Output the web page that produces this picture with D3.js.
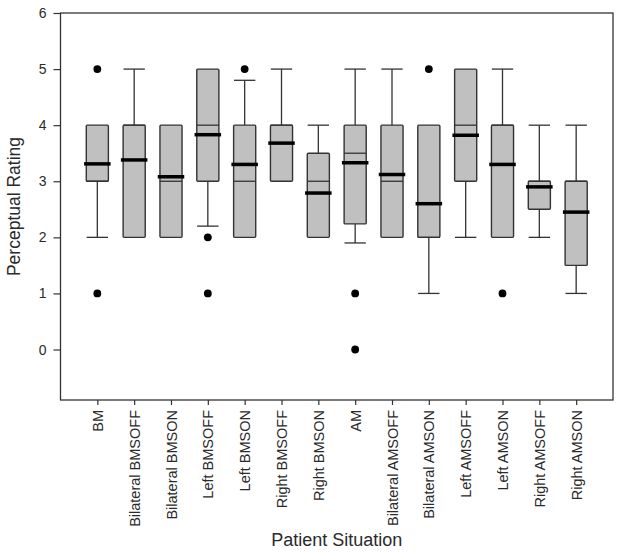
<!DOCTYPE html>
<html>
<head>
<meta charset="utf-8">
<script src="https://cdn.jsdelivr.net/npm/d3@7"></script>
<style>
  html, body { margin: 0; padding: 0; background: #fff; }
  svg { display: block; font-family: "Liberation Sans", Arial, sans-serif; }
</style>
</head>
<body>
<svg id="chart" width="621" height="552"></svg>
<script>
const categories = ["BM", "Bilateral BMSOFF", "Bilateral BMSON", "Left BMSOFF", "Left BMSON",
  "Right BMSOFF", "Right BMSON", "AM", "Bilateral AMSOFF", "Bilateral AMSON",
  "Left AMSOFF", "Left AMSON", "Right AMSOFF", "Right AMSON"];
const q1Values = [3, 2, 2, 3, 2, 3, 2, 2.24, 2, 2, 3, 2, 2.5, 1.5];
const q3Values = [4, 4, 4, 5, 4, 4, 3.5, 4, 4, 4, 5, 4, 3, 3];
const medianValues = [3, 4, 3, 4, 3, 4, 3, 3.5, 3, 2, 4, 4, 3, 3];
const meanValues = [3.31, 3.38, 3.08, 3.83, 3.30, 3.68, 2.79, 3.33, 3.12, 2.60, 3.82, 3.30, 2.90, 2.45];
const whiskerLow = [2, 2, 2, 2.2, 2, 3, 2, 1.9, 2, 1, 2, 2, 2, 1];
const whiskerHigh = [4, 5, 4, 5, 4.8, 5, 4, 5, 5, 4, 5, 5, 4, 4];
const outlierValues = [[5, 1], [], [], [2, 1], [5], [], [], [1, 0], [], [5], [], [1], [], []];
const yTicks = [0, 1, 2, 3, 4, 5, 6];

(function () {
const svg = d3.select("#chart");
const mLeft = 60.5, mRight = 613, mTop = 13, mBottom = 400;

const x = d3.scaleLinear().domain([0, categories.length + 1]).range([mLeft, mRight]);
const y = d3.scaleLinear().domain([-0.9, 6]).range([mBottom, mTop]);

const step = x(1) - x(0);
const boxW = step * 0.6;
const capW = step * 0.58;
const meanW = step * 0.72;
const axisColor = "#333";
const textColor = "#2a2a2a";
const fontFam = '"Liberation Sans", Arial, sans-serif';

svg.append("rect")
  .attr("x", mLeft).attr("y", mTop)
  .attr("width", mRight - mLeft).attr("height", mBottom - mTop)
  .attr("fill", "none").attr("stroke", axisColor).attr("stroke-width", 1.3);

const yAxis = svg.append("g")
  .attr("transform", `translate(${mLeft},0)`)
  .call(d3.axisLeft(y).tickValues(yTicks).tickSize(7).tickPadding(7).tickFormat(d3.format("d")));
yAxis.select(".domain").remove();
yAxis.selectAll(".tick line").attr("stroke", axisColor).attr("stroke-width", 1.2);
yAxis.selectAll(".tick text").attr("fill", textColor).style("font-size", "14px")
  .style("font-family", fontFam);

const xAxis = svg.append("g")
  .attr("transform", `translate(0,${mBottom})`)
  .call(d3.axisBottom(x).tickValues(d3.range(1, categories.length + 1)).tickSize(5)
    .tickFormat(i => categories[i - 1]));
xAxis.select(".domain").remove();
xAxis.selectAll(".tick line").attr("stroke", axisColor).attr("stroke-width", 1.2);
xAxis.selectAll(".tick text")
  .attr("fill", textColor)
  .style("font-size", "14.5px")
  .style("font-family", fontFam)
  .attr("text-anchor", "end")
  .attr("transform", "rotate(-90)")
  .attr("x", -10).attr("y", 0).attr("dy", "0.35em");

const g = svg.append("g");
categories.forEach((c, i) => {
  const cx = x(i + 1);
  const q1 = q1Values[i], q3 = q3Values[i];
  if (whiskerHigh[i] > q3) {
    g.append("line").attr("x1", cx).attr("x2", cx).attr("y1", y(q3)).attr("y2", y(whiskerHigh[i]))
      .attr("stroke", axisColor).attr("stroke-width", 1.3);
    g.append("line").attr("x1", cx - capW / 2).attr("x2", cx + capW / 2)
      .attr("y1", y(whiskerHigh[i])).attr("y2", y(whiskerHigh[i]))
      .attr("stroke", axisColor).attr("stroke-width", 1.3);
  }
  if (whiskerLow[i] < q1) {
    g.append("line").attr("x1", cx).attr("x2", cx).attr("y1", y(q1)).attr("y2", y(whiskerLow[i]))
      .attr("stroke", axisColor).attr("stroke-width", 1.3);
    g.append("line").attr("x1", cx - capW / 2).attr("x2", cx + capW / 2)
      .attr("y1", y(whiskerLow[i])).attr("y2", y(whiskerLow[i]))
      .attr("stroke", axisColor).attr("stroke-width", 1.3);
  }
  g.append("rect")
    .attr("x", cx - boxW / 2).attr("y", y(q3))
    .attr("width", boxW).attr("height", y(q1) - y(q3))
    .attr("rx", 1).attr("ry", 1)
    .attr("fill", "#c0c0c0").attr("stroke", axisColor).attr("stroke-width", 1.4);
  g.append("line").attr("x1", cx - boxW / 2).attr("x2", cx + boxW / 2)
    .attr("y1", y(medianValues[i])).attr("y2", y(medianValues[i]))
    .attr("stroke", axisColor).attr("stroke-width", 1.3);
  g.append("line").attr("x1", cx - meanW / 2).attr("x2", cx + meanW / 2)
    .attr("y1", y(meanValues[i])).attr("y2", y(meanValues[i]))
    .attr("stroke", "#000").attr("stroke-width", 3.5);
  outlierValues[i].forEach(v => {
    g.append("circle").attr("cx", cx).attr("cy", y(v)).attr("r", 3.9).attr("fill", "#000");
  });
});

svg.append("text")
  .attr("transform", `translate(20,${(mTop + mBottom) / 2}) rotate(-90)`)
  .attr("text-anchor", "middle")
  .attr("fill", textColor)
  .style("font-size", "17.5px")
  .style("font-family", fontFam)
  .text("Perceptual Rating");

svg.append("text")
  .attr("x", (mLeft + mRight) / 2).attr("y", 546)
  .attr("text-anchor", "middle")
  .attr("fill", textColor)
  .style("font-size", "18px")
  .style("font-family", fontFam)
  .text("Patient Situation");
})();
</script>
</body>
</html>
